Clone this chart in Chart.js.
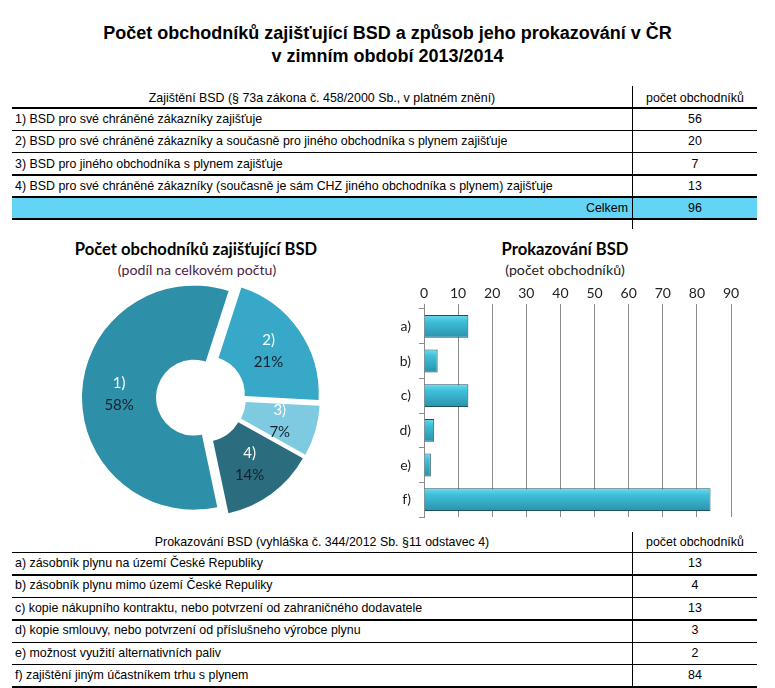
<!DOCTYPE html>
<html lang="cs">
<head>
<meta charset="UTF-8">
<title>Počet obchodníků zajišťující BSD</title>
<script src="https://cdn.jsdelivr.net/npm/chart.js"></script>
<style>
  body { margin: 0; background: #fff; width: 775px; height: 688px; position: relative; overflow: hidden;
         font-family: "Liberation Sans", Arial, sans-serif; color: #000; }
  .title { position: absolute; left: 0; width: 775px; text-align: center; font-weight: bold; font-size: 18px; height: 22px; line-height: 22px; }
  .cell { position: absolute; font-size: 12.4px; height: 22px; line-height: 22px; white-space: nowrap; }
  .hline { position: absolute; left: 12px; width: 745px; background: #000; }
  .vline { position: absolute; left: 632px; width: 1px; background: #000; }
  .ctitle { position: absolute; font-family: Lato, "Open Sans", sans-serif; font-weight: bold; font-size: 16.6px; text-align: center; }
  .csub { position: absolute; font-family: Lato, "Open Sans", sans-serif; font-size: 14.2px; text-align: center; }
  canvas { position: absolute; }
</style>
</head>
<body>
<div class="title" style="top:22px">Počet obchodníků zajišťující BSD a způsob jeho prokazování v ČR</div>
<div class="title" style="top:45px">v zimním období 2013/2014</div>

<div id="table1"></div>

<div class="ctitle" style="left:46px; top:239px; width:300px">Počet obchodníků zajišťující BSD</div>
<div class="csub" style="left:47px; top:261px; width:300px; color:#4b1e3f">(podíl na celkovém počtu)</div>
<canvas id="pieChart" width="252" height="236" style="left:75px; top:280px"></canvas>

<div class="ctitle" style="left:415px; top:239px; width:300px">Prokazování BSD</div>
<div class="csub" style="left:415px; top:261px; width:300px; color:#222">(počet obchodníků)</div>
<canvas id="barChart" width="371" height="245" style="left:380px; top:278px"></canvas>

<div id="table2"></div>

<script>
    // Data
    const guaranteeHeader = 'Zajištění BSD (§ 73a zákona č. 458/2000 Sb., v platném znění)';
    const guaranteeLabels = [
        '1) BSD pro své chráněné zákazníky zajišťuje',
        '2) BSD pro své chráněné zákazníky a současně pro jiného obchodníka s plynem zajišťuje',
        '3) BSD pro jiného obchodníka s plynem zajišťuje',
        '4) BSD pro své chráněné zákazníky (současně je sám CHZ jiného obchodníka s plynem) zajišťuje'
    ];
    const sliceLabels = ['1)', '2)', '3)', '4)'];
    const guaranteeCounts = [56, 20, 7, 13];

    const proofHeader = 'Prokazování BSD (vyhláška č. 344/2012 Sb. §11 odstavec 4)';
    const proofLabels = [
        'a) zásobník plynu na území České Republiky',
        'b) zásobník plynu mimo území České Repuliky',
        'c) kopie nákupního kontraktu, nebo potvrzení od zahraničného dodavatele',
        'd) kopie smlouvy, nebo potvrzení od příslušneho výrobce plynu',
        'e) možnost využití alternativních paliv',
        'f) zajištění jiným účastníkem trhu s plynem'
    ];
    const proofCategories = ['a)', 'b)', 'c)', 'd)', 'e)', 'f)'];
    const proofCounts = [13, 4, 13, 3, 2, 84];

    const countHeader = 'počet obchodníků';
    const total = guaranteeCounts.reduce((s, v) => s + v, 0);

    // Tables (plain html, lines placed by hand)
    function addCell(parent, text, top, left, width, align) {
        const d = document.createElement('div');
        d.className = 'cell';
        d.textContent = text;
        d.style.top = top + 'px';
        d.style.left = left + 'px';
        if (width) d.style.width = width + 'px';
        d.style.textAlign = align || 'left';
        parent.appendChild(d);
    }
    function addLine(parent, y, thick) {
        const d = document.createElement('div');
        d.className = 'hline';
        d.style.top = (thick ? y - 1 : y) + 'px';
        d.style.height = (thick ? 2 : 1) + 'px';
        parent.appendChild(d);
    }
    function addVLine(parent, y1, y2) {
        const d = document.createElement('div');
        d.className = 'vline';
        d.style.top = y1 + 'px';
        d.style.height = (y2 - y1) + 'px';
        parent.appendChild(d);
    }

    const t1 = document.getElementById('table1');
    const band = document.createElement('div');
    band.style.cssText = 'position:absolute;left:12px;top:197px;width:745px;height:21px;background:#64d4f6';
    t1.appendChild(band);
    addCell(t1, guaranteeHeader, 87, 12, 620, 'center');
    addCell(t1, countHeader, 87, 633, 124, 'center');
    const rows1 = [108, 130, 153, 175];
    guaranteeLabels.forEach((lab, i) => {
        addCell(t1, lab, rows1[i], 15, 0, 'left');
        addCell(t1, String(guaranteeCounts[i]), rows1[i], 633, 124, 'center');
    });
    addCell(t1, 'Celkem', 197, 12, 616, 'right');
    addCell(t1, String(total), 197, 633, 124, 'center');
    [[108, 1], [130, 0], [152, 0], [175, 1], [197, 1], [219, 1]].forEach(l => addLine(t1, l[0], l[1]));
    addVLine(t1, 86, 229);

    const t2 = document.getElementById('table2');
    addCell(t2, proofHeader, 531, 12, 620, 'center');
    addCell(t2, countHeader, 531, 633, 124, 'center');
    const rows2 = [552, 574, 597, 619, 642, 664];
    proofLabels.forEach((lab, i) => {
        addCell(t2, lab, rows2[i], 15, 0, 'left');
        addCell(t2, String(proofCounts[i]), rows2[i], 633, 124, 'center');
    });
    [[552, 0], [575, 1], [597, 0], [620, 1], [642, 0], [664, 0], [687, 1]].forEach(l => addLine(t2, l[0], l[1]));
    addVLine(t2, 532, 688);

    // Exploded doughnut: every slice pushed out along its mid angle
    const explodeBy = 7;

    const explodePlugin = {
        id: 'explode',
        beforeDatasetDraw(chart, args) {
            const ctx = chart.ctx;
            args.meta.data.forEach(arc => {
                const mid = (arc.startAngle + arc.endAngle) / 2;
                ctx.save();
                ctx.translate(Math.cos(mid) * explodeBy, Math.sin(mid) * explodeBy);
                arc.draw(ctx);
                ctx.restore();
            });
            return false;
        },
        afterDatasetsDraw(chart) {
            const ctx = chart.ctx;
            const meta = chart.getDatasetMeta(0);
            ctx.save();
            ctx.textAlign = 'center';
            ctx.textBaseline = 'middle';
            ctx.font = '15px Lato, "Open Sans", sans-serif';
            meta.data.forEach((arc, i) => {
                const p = arc.getCenterPoint();
                const mid = (arc.startAngle + arc.endAngle) / 2;
                const x = p.x + Math.cos(mid) * explodeBy;
                const y = p.y + Math.sin(mid) * explodeBy;
                ctx.fillStyle = '#ffffff';
                ctx.fillText(sliceLabels[i], x, y - 11);
                ctx.fillStyle = '#17202b';
                ctx.fillText(Math.round(guaranteeCounts[i] / total * 100) + '%', x, y + 11);
            });
            ctx.restore();
        }
    };

    new Chart(document.getElementById('pieChart'), {
        type: 'doughnut',
        data: {
            labels: sliceLabels,
            datasets: [{
                data: guaranteeCounts,
                backgroundColor: ['#2e8fa9', '#37a8c7', '#7dcae1', '#2b6c7e'],
                borderWidth: 0
            }]
        },
        options: {
            responsive: false,
            animation: false,
            rotation: 168,
            radius: 112,
            cutout: 40,
            layout: { padding: 0 },
            plugins: { legend: { display: false }, tooltip: { enabled: false } }
        },
        plugins: [explodePlugin]
    });

    // Bars with a light top and a darker bottom
    function barFill(c) {
        const chart = c.chart;
        const ys = chart.scales.y;
        if (!ys || !chart.chartArea) return '#38b5d0';
        const yc = ys.getPixelForValue(c.dataIndex);
        const g = chart.ctx.createLinearGradient(0, yc - 12, 0, yc + 12);
        g.addColorStop(0, '#72dcf1');
        g.addColorStop(0.3, '#3fbfda');
        g.addColorStop(1, '#2a90a9');
        return g;
    }

    const axisFont = { family: 'Lato, "Open Sans", sans-serif', size: 14 };

    new Chart(document.getElementById('barChart'), {
        type: 'bar',
        data: {
            labels: proofCategories,
            datasets: [{
                data: proofCounts,
                backgroundColor: barFill,
                borderColor: '#1c5262',
                borderWidth: 1,
                barPercentage: 0.66,
                categoryPercentage: 1
            }]
        },
        options: {
            indexAxis: 'y',
            responsive: false,
            animation: false,
            layout: { padding: { left: 0, right: 20, top: 0, bottom: 6 } },
            plugins: { legend: { display: false }, tooltip: { enabled: false } },
            scales: {
                x: {
                    position: 'top',
                    min: 0,
                    max: 90,
                    ticks: { stepSize: 10, color: '#222', font: axisFont, padding: 2 },
                    grid: { color: '#8c8c8c', tickLength: 5 },
                    border: { display: false },
                    afterFit: s => { s.height = 31; }
                },
                y: {
                    ticks: { color: '#222', font: axisFont, padding: 8 },
                    grid: { drawOnChartArea: false, tickLength: 5, color: '#8c8c8c', offset: true },
                    border: { color: '#8c8c8c' },
                    afterFit: s => { s.width = 44; s.paddingTop = 0; s.paddingBottom = 0; }
                }
            }
        }
    });
</script>
</body>
</html>
